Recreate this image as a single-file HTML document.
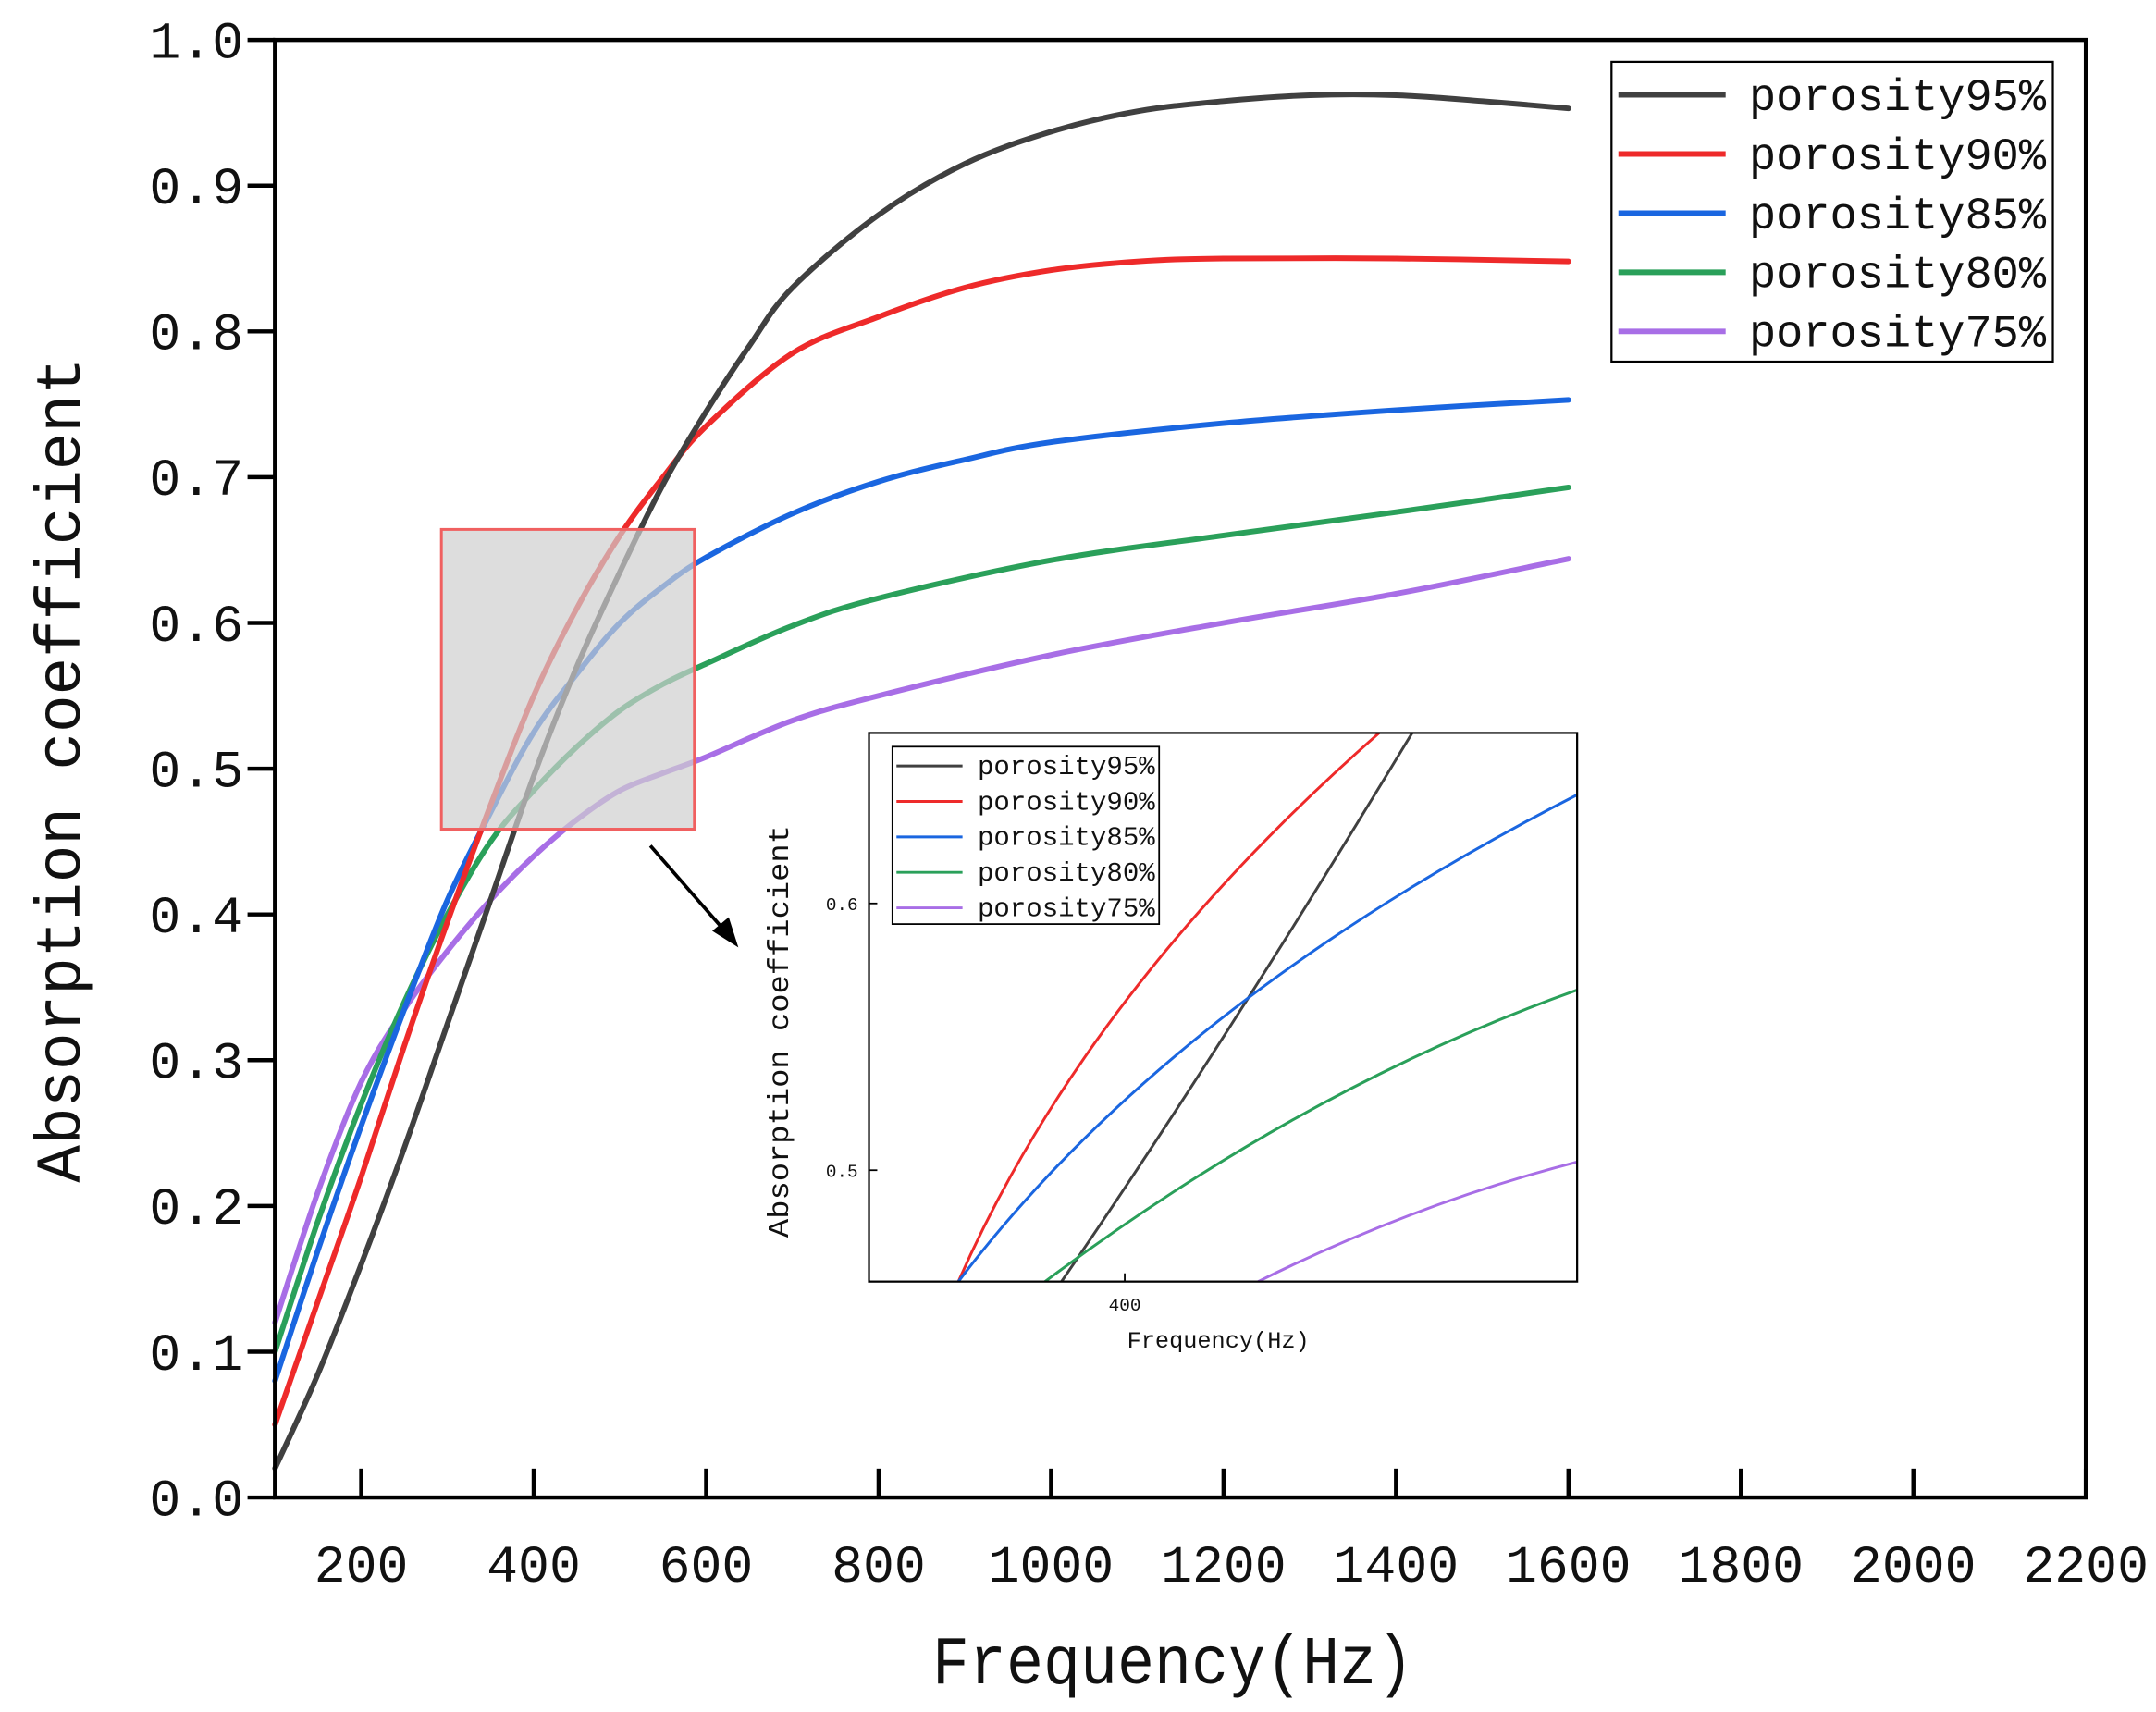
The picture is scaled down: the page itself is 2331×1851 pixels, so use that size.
<!DOCTYPE html>
<html><head><meta charset="utf-8"><style>
html,body{margin:0;padding:0;background:#fff;}
svg{display:block;}
text{font-family:"Liberation Mono","DejaVu Sans Mono",monospace;fill:#111;}
</style></head><body>
<svg id="s" width="2331" height="1851" viewBox="0 0 1568 1245" preserveAspectRatio="none" xmlns="http://www.w3.org/2000/svg">
<rect x="0" y="0" width="1568" height="1245" fill="#fff"/>
<g id="curves" fill="none" stroke-width="4" stroke-linecap="round"></g>
<rect x="321" y="385" width="184" height="218" fill="#cfcfcf" fill-opacity="0.7" stroke="#f06060" stroke-width="2"/>
<rect x="200" y="29" width="1317" height="1060" fill="none" stroke="#000" stroke-width="3"/>
<g id="ticks" stroke="#000" stroke-width="3"></g>
<g id="labels" font-size="38"></g>
<text x="853" y="1224" font-size="50" text-anchor="middle" font-family="Liberation Serif, serif" textLength="350" lengthAdjust="spacingAndGlyphs">Frequency(Hz)</text>
<text transform="translate(58,560) rotate(-90)" font-size="46" text-anchor="middle" textLength="600" lengthAdjust="spacingAndGlyphs">Absorption coefficient</text>
<rect x="1172" y="45" width="321" height="218" fill="#fff" stroke="#000" stroke-width="1.5"/>
<g id="leg" font-size="33"></g>
<line x1="473" y1="615" x2="528" y2="678" stroke="#000" stroke-width="2.5"/>
<polygon points="537,689 518,677 530,667" fill="#000"/>
<rect x="632" y="533" width="515" height="399" fill="#fff"/>
<clipPath id="ic"><rect x="632" y="533" width="515" height="399"/></clipPath>
<g clip-path="url(#ic)" fill="none" stroke-width="2">
<path d="M772,932 Q 890,760 1027,533" stroke="#404040"/>
<path d="M697,932 Q 790,720 1003,533" stroke="#ee2a2a"/>
<path d="M697,932 Q 850,730 1147,578" stroke="#1a66e0"/>
<path d="M760,932 Q 950,790 1147,720" stroke="#2aa05a"/>
<path d="M915,932 Q 1030,875 1147,845" stroke="#a86ee6"/>
</g>
<rect x="632" y="533" width="515" height="399" fill="none" stroke="#000" stroke-width="1.5"/>
<line x1="632" y1="657" x2="638" y2="657" stroke="#000" stroke-width="1.2"/>
<line x1="632" y1="851" x2="638" y2="851" stroke="#000" stroke-width="1.2"/>
<line x1="818" y1="932" x2="818" y2="926" stroke="#000" stroke-width="1.2"/>
<text x="624" y="662" font-size="13" text-anchor="end">0.6</text>
<text x="624" y="856" font-size="13" text-anchor="end">0.5</text>
<text x="818" y="953" font-size="13" text-anchor="middle">400</text>
<text x="886" y="980" font-size="17" text-anchor="middle">Frequency(Hz)</text>
<text transform="translate(573,750) rotate(-90)" font-size="21" text-anchor="middle" textLength="300" lengthAdjust="spacingAndGlyphs">Absorption coefficient</text>
<rect x="649" y="543" width="194" height="129" fill="#fff" stroke="#000" stroke-width="1.2"/>
<g id="ileg" font-size="19"></g>
</svg>
<script>
var NS="http://www.w3.org/2000/svg";
function el(t,a,p,txt){var e=document.createElementNS(NS,t);for(var k in a)e.setAttribute(k,a[k]);if(txt)e.textContent=txt;p.appendChild(e);return e;}
function X(f){return 200+(f-100)/2100*1317;}
function Y(v){return 1089-v*1060;}
var cols=["#404040","#ee2a2a","#1a66e0","#2aa05a","#a86ee6"];
var names=["porosity95%","porosity90%","porosity85%","porosity80%","porosity75%"];
var data=[
[[100,.02],[150,.085],[200,.16],[250,.24],[300,.325],[350,.41],[400,.495],[450,.57],[500,.635],[550,.695],[600,.745],[650,.79],[700,.83],[800,.88],[900,.915],[1000,.937],[1100,.951],[1200,.958],[1300,.962],[1400,.962],[1500,.958],[1600,.953]],
[[100,.05],[150,.135],[200,.22],[250,.31],[300,.395],[350,.475],[400,.55],[450,.61],[500,.66],[550,.70],[600,.735],[700,.785],[800,.81],[900,.83],[1000,.842],[1100,.848],[1200,.85],[1400,.85],[1600,.848]],
[[100,.08],[150,.17],[200,.255],[250,.335],[300,.41],[350,.47],[400,.525],[450,.565],[500,.60],[550,.625],[600,.645],[700,.675],[800,.697],[900,.712],[1000,.724],[1200,.737],[1400,.746],[1600,.753]],
[[100,.10],[150,.19],[200,.27],[250,.34],[300,.40],[350,.45],[400,.485],[450,.515],[500,.54],[550,.558],[600,.572],[700,.598],[800,.617],[1000,.643],[1200,.66],[1400,.676],[1600,.693]],
[[100,.12],[150,.21],[200,.285],[250,.335],[300,.375],[350,.41],[400,.44],[450,.465],[500,.485],[550,.497],[600,.508],[700,.533],[800,.55],[1000,.578],[1200,.6],[1400,.62],[1600,.644]]
];
function path(pts){var p=pts.map(function(d){return [X(d[0]),Y(d[1])];});var s="M"+p[0][0]+","+p[0][1];
for(var i=0;i<p.length-1;i++){var p0=p[i-1]||p[i],p1=p[i],p2=p[i+1],p3=p[i+2]||p2;
s+=" C"+(p1[0]+(p2[0]-p0[0])/6)+","+(p1[1]+(p2[1]-p0[1])/6)+" "+(p2[0]-(p3[0]-p1[0])/6)+","+(p2[1]-(p3[1]-p1[1])/6)+" "+p2[0]+","+p2[1];}return s;}
var cg=document.getElementById("curves");
for(var i=4;i>=0;i--)el("path",{d:path(data[i]),stroke:cols[i]},cg);
var tg=document.getElementById("ticks"),lg=document.getElementById("labels");
for(var f=200;f<=2200;f+=200){var x=X(f);el("line",{x1:x,y1:1089,x2:x,y2:1068},tg);el("text",{x:x,y:1150,"text-anchor":"middle"},lg,String(f));}
for(var k=0;k<=10;k++){var y=Y(k/10);el("line",{x1:180,y1:y,x2:200,y2:y},tg);el("text",{x:177,y:y+13,"text-anchor":"end"},lg,(k/10).toFixed(1));}
var L=document.getElementById("leg"),IL=document.getElementById("ileg");
for(var i=0;i<5;i++){var y=69+i*43;el("line",{x1:1177,y1:y,x2:1255,y2:y,stroke:cols[i],"stroke-width":4},L);
el("text",{x:1272,y:y+11,textLength:216,lengthAdjust:"spacingAndGlyphs"},L,names[i]);
var y2=557+i*25.8;el("line",{x1:652,y1:y2,x2:700,y2:y2,stroke:cols[i],"stroke-width":2},IL);
el("text",{x:711,y:y2+6,textLength:129,lengthAdjust:"spacingAndGlyphs"},IL,names[i]);}
</script>
</body></html>
